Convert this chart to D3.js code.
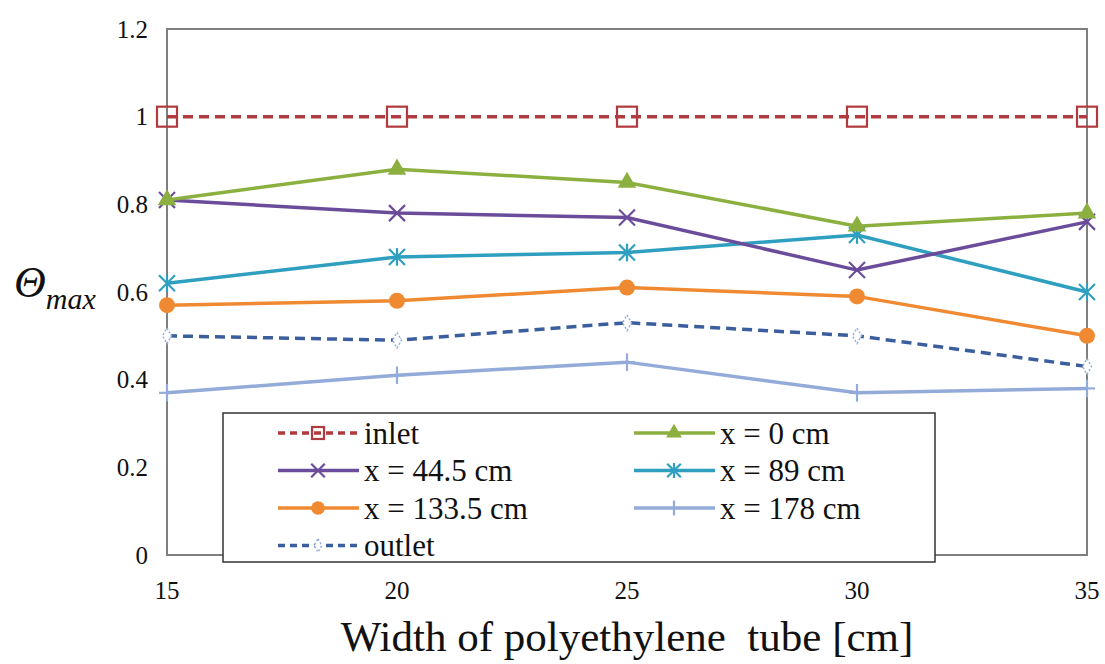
<!DOCTYPE html>
<meta charset="utf-8">
<style>
body { margin: 0; background: #fff; }
.frame { fill: none; stroke: #7f7f7f; stroke-width: 2; }
.line { fill: none; stroke-width: 3.5; }
</style>
<svg width="1105" height="664" font-family="'Liberation Serif', 'Times New Roman', serif"></svg>
<script src="https://d3js.org/d3.v7.min.js"></script>
<script>
var widths = [15, 20, 25, 30, 35];
var yTicks = [0, 0.2, 0.4, 0.6, 0.8, 1, 1.2];

var inlet = [1, 1, 1, 1, 1];
var x0 = [0.81, 0.88, 0.85, 0.75, 0.78];
var x445 = [0.81, 0.78, 0.77, 0.65, 0.76];
var x89 = [0.62, 0.68, 0.69, 0.73, 0.60];
var x1335 = [0.57, 0.58, 0.61, 0.59, 0.50];
var x178 = [0.37, 0.41, 0.44, 0.37, 0.38];
var outlet = [0.50, 0.49, 0.53, 0.50, 0.43];

var series = [
  {name: "inlet", values: inlet, color: "#b03a3e", dash: "10,6", marker: "square"},
  {name: "x = 0 cm", values: x0, color: "#8cb040", dash: null, marker: "triangle"},
  {name: "x = 44.5 cm", values: x445, color: "#6b4c9a", dash: null, marker: "cross"},
  {name: "x = 89 cm", values: x89, color: "#2f9fc0", dash: null, marker: "asterisk"},
  {name: "x = 133.5 cm", values: x1335, color: "#f08a32", dash: null, marker: "circle"},
  {name: "x = 178 cm", values: x178, color: "#93abd8", dash: null, marker: "plus"},
  {name: "outlet", values: outlet, color: "#3a5e9e", dash: "10,6", marker: "diamond"}
];

var serif = "'Liberation Serif', 'Times New Roman', serif";

var svg = d3.select("svg"),
    margin = {top: 29, right: 18, bottom: 109, left: 167},
    width = +svg.attr("width") - margin.left - margin.right,
    height = +svg.attr("height") - margin.top - margin.bottom;

var x = d3.scaleLinear().domain([15, 35]).range([0, width]);
var y = d3.scaleLinear().domain([0, 1.2]).range([height, 0]);

var g = svg.append("g").attr("transform", "translate(" + margin.left + "," + margin.top + ")");

g.append("rect").attr("class", "frame").attr("width", width).attr("height", height);

// tick labels
g.selectAll(".ytick").data(yTicks).enter().append("text")
    .attr("x", -19).attr("y", function(d) { return y(d); })
    .attr("dy", "0.35em").attr("text-anchor", "end")
    .attr("font-family", serif).attr("font-size", 25).attr("fill", "#111")
    .text(function(d) { return d3.format("")(d); });

g.selectAll(".xtick").data(widths).enter().append("text")
    .attr("x", function(d) { return x(d); }).attr("y", height + 44)
    .attr("text-anchor", "middle")
    .attr("font-family", serif).attr("font-size", 25).attr("fill", "#111")
    .text(function(d) { return d; });

svg.append("text")
    .attr("x", 627).attr("y", 651)
    .attr("text-anchor", "middle")
    .style("white-space", "pre")
    .attr("font-family", serif).attr("font-size", 43).attr("fill", "#111")
    .text("Width of polyethylene  tube [cm]");

var ylab = svg.append("text").attr("x", 14).attr("y", 297)
    .attr("font-family", serif).attr("fill", "#111").attr("font-style", "italic");
ylab.append("tspan").attr("font-size", 44).text("Θ");
ylab.append("tspan").attr("dy", 12).attr("font-size", 30).text("max");

function drawMarker(sel, s, cx, cy, scale) {
  var k = scale || 1;
  if (s.marker === "square") {
    sel.append("rect").attr("x", cx - 10 * k).attr("y", cy - 10 * k)
      .attr("width", 20 * k).attr("height", 20 * k)
      .attr("fill", "none").attr("stroke", s.color).attr("stroke-width", 2.2);
  } else if (s.marker === "triangle") {
    sel.append("path").attr("d", d3.symbol().type(d3.symbolTriangle).size(150 * k * k)())
      .attr("transform", "translate(" + cx + "," + cy + ")").attr("fill", s.color);
  } else if (s.marker === "circle") {
    sel.append("circle").attr("cx", cx).attr("cy", cy).attr("r", 8 * k).attr("fill", s.color);
  } else if (s.marker === "cross" || s.marker === "asterisk" || s.marker === "plus") {
    var r = 8 * k, p = [];
    if (s.marker !== "plus") p.push([-r, -r, r, r], [-r, r, r, -r]);
    if (s.marker !== "cross") p.push([0, -r * 1.1, 0, r * 1.1]);
    if (s.marker === "plus") p.push([-r, 0, r, 0]);
    p.forEach(function(q) {
      sel.append("line").attr("x1", cx + q[0]).attr("y1", cy + q[1])
        .attr("x2", cx + q[2]).attr("y2", cy + q[3])
        .attr("stroke", s.color).attr("stroke-width", 2.2);
    });
  } else if (s.marker === "diamond") {
    sel.append("path").attr("d", d3.symbol().type(d3.symbolDiamond).size(70 * k * k)())
      .attr("transform", "translate(" + cx + "," + cy + ")")
      .attr("fill", "#fff").attr("stroke", "#8fb0e0").attr("stroke-width", 1.5)
      .attr("stroke-dasharray", "2,2");
  }
}

var line = d3.line()
    .x(function(d, i) { return x(widths[i]); })
    .y(function(d) { return y(d); });

// draw in reverse so inlet/green end up on top
series.slice().reverse().forEach(function(s) {
  var sg = g.append("g");
  sg.append("path").datum(s.values).attr("class", "line")
    .attr("stroke", s.color).attr("stroke-dasharray", s.dash).attr("d", line);
  s.values.forEach(function(v, i) { drawMarker(sg, s, x(widths[i]), y(v)); });
});

// legend
var lg = svg.append("g").attr("transform", "translate(223,413)");
lg.append("rect").attr("width", 712).attr("height", 149)
  .attr("fill", "#fff").attr("stroke", "#333").attr("stroke-width", 1.5);

series.forEach(function(s, i) {
  var col = i % 2, row = Math.floor(i / 2);
  var lx = 55 + col * 356, ly = 20 + row * 37.5;
  var item = lg.append("g");
  item.append("line").attr("x1", lx).attr("x2", lx + 81).attr("y1", ly).attr("y2", ly)
    .attr("stroke", s.color).attr("stroke-width", 3.5).attr("stroke-dasharray", s.dash ? "7,5" : null);
  drawMarker(item, s, lx + 40, ly, s.marker === "square" ? 0.6 : 0.85);
  item.append("text").attr("x", lx + 86).attr("y", ly).attr("dy", "0.35em")
    .attr("font-family", serif).attr("font-size", 31).attr("fill", "#111").text(s.name);
});
</script>
